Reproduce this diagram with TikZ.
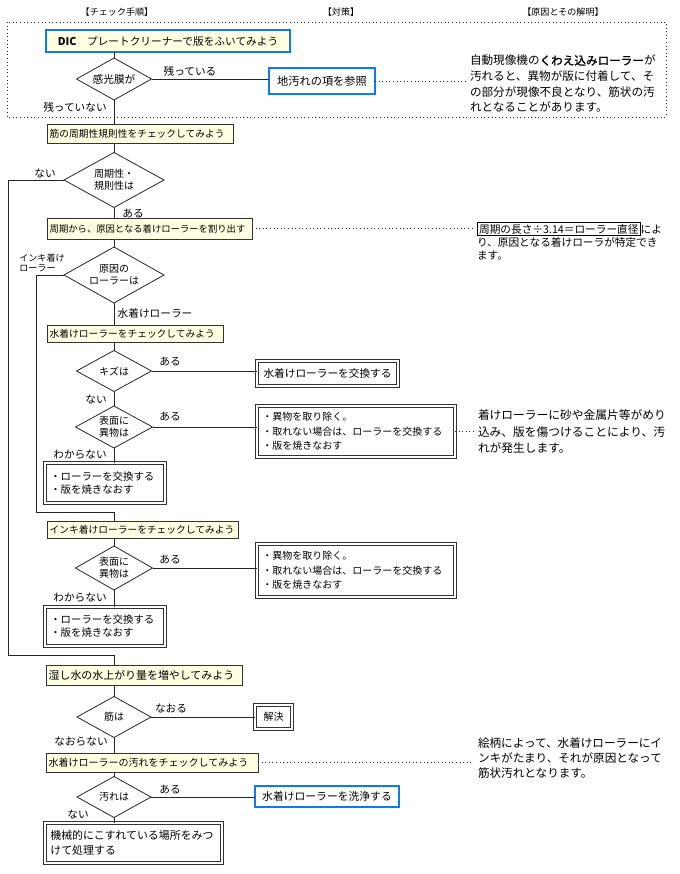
\documentclass[tikz,border=0pt]{standalone}
\usepackage{fontspec}
\setmainfont{Noto Sans CJK JP}
\usepackage{tikz}
\usetikzlibrary{shapes.geometric,calc,positioning}
\definecolor{chkfill}{RGB}{255,255,226}
\definecolor{dicblue}{RGB}{16,122,232}
\setlength{\fboxsep}{1pt}
\setlength{\fboxrule}{0.6pt}

\begin{document}
\begin{tikzpicture}[x=0.75pt,y=-0.75pt,
		every node/.style={outer sep=0pt,font=\fontsize{7.5}{9}\selectfont},
		ln/.style={draw=black!85,line width=0.6pt},
		dots/.style={draw=black!85,dotted,line width=0.7pt,shorten >=3pt},
		chk/.style={draw=black!80,line width=0.6pt,fill=chkfill,anchor=north west,inner xsep=2pt,inner ysep=0pt,align=left,font=\fontsize{7.3}{9}\selectfont},
		act/.style={draw=black!80,double,double distance=1.3pt,line width=0.5pt,anchor=north west,inner xsep=4pt,inner ysep=0pt,align=left},
		blu/.style={draw=dicblue,line width=2.2pt,anchor=north west,inner sep=0pt,align=center,font=\fontsize{8}{9}\selectfont},
		dec/.style={diamond,draw=black!85,line width=0.6pt,shape aspect=1.8,inner sep=0pt,align=center},
		lbl/.style={font=\fontsize{8}{9.5}\selectfont},
		note/.style={anchor=north west,inner sep=0pt,align=left,font=\fontsize{8.7}{11.7}\selectfont},
		hdr/.style={font=\fontsize{6.8}{8}\selectfont},
		]
		\useasboundingbox (0,0) rectangle (680,874);

		% column heads
		\node[hdr] (h1) at (117,12) {【チェック手順】};
		\node[hdr] (h2) at (341,12) {【対策】};
		\node[hdr] (h3) at (563,12) {【原因とその解明】};

		\draw[dotted,line width=0.7pt,black!85] (7,22) rectangle (666,117);

		% steps
		\node[blu,fill=chkfill,text width=183pt,minimum height=16.5pt] (dic) at (46,30) {\textbf{DIC}\quad プレートクリーナーで版をふいてみよう};
		\node[dec,font=\fontsize{8}{9}\selectfont,minimum width=56.25pt,minimum height=31.5pt] (d1) at (114,79) {感光膜が};
		\node[blu,text width=79.5pt,minimum height=19.5pt,font=\fontsize{8.4}{9}\selectfont] (ref) at (269,68) {地汚れの項を参照};
		\node[chk,text width=135.5pt,minimum height=14.25pt] (c1) at (47,124) {筋の周期性規則性をチェックしてみよう};
		\node[dec,minimum width=75pt,minimum height=41.25pt] (d2) at (114,180) {周期性・\\規則性は};
		\node[chk,text width=149.75pt,minimum height=15.75pt,font=\fontsize{7}{9}\selectfont] (c2) at (47,218) {周期から、原因となる着けローラーを割り出す};
		\node[dec,minimum width=75pt,minimum height=42pt] (d3) at (114,275) {原因の\\ローラーは};

		\node[chk,text width=128pt,minimum height=12.75pt] (c3) at (47,325) {水着けローラーをチェックしてみよう};
		\node[dec,minimum width=56.25pt,minimum height=30.75pt] (d4) at (114,371) {キズは};
		\node[act,text width=97.75pt,minimum height=18.75pt,align=center,font=\fontsize{8}{9}\selectfont] (a1) at (257,361) {水着けローラーを交換する};
		\node[dec,minimum width=57.75pt,minimum height=31.5pt] (d5) at (114,427) {表面に\\異物は};
		\node[act,text width=140.5pt,minimum height=38.25pt,font=\fontsize{7.5}{10.9}\selectfont] (a2) at (257,406) {・異物を取り除く。\\・取れない場合は、ローラーを交換する\\・版を焼きなおす};
		\node[act,text width=82pt,minimum height=30pt,font=\fontsize{7.8}{9.8}\selectfont] (a3) at (45,463) {・ローラーを交換する\\・版を焼きなおす};

		\node[chk,text width=139.25pt,minimum height=12.75pt] (c4) at (47,521) {インキ着けローラーをチェックしてみよう};
		\node[dec,minimum width=57.75pt,minimum height=33pt] (d6) at (114,568) {表面に\\異物は};
		\node[act,text width=140.5pt,minimum height=39.75pt,font=\fontsize{7.5}{10.9}\selectfont] (a4) at (257,544) {・異物を取り除く。\\・取れない場合は、ローラーを交換する\\・版を焼きなおす};
		\node[act,text width=82pt,minimum height=29.25pt,font=\fontsize{7.8}{9.8}\selectfont] (a5) at (45,607) {・ローラーを交換する\\・版を焼きなおす};

		\node[chk,text width=143pt,minimum height=15pt,font=\fontsize{8.2}{9}\selectfont] (c5) at (46,665) {湿し水の水上がり量を増やしてみよう};
		\node[dec,minimum width=55.5pt,minimum height=30.75pt] (d7) at (114,717) {筋は};
		\node[act,text width=19.75pt,minimum height=18pt,align=center] (a6) at (255,705) {解決};
		\node[chk,text width=155pt,minimum height=14.25pt,font=\fontsize{7.5}{9}\selectfont] (c6) at (46,753) {水着けローラーの汚れをチェックしてみよう};
		\node[dec,minimum width=55.5pt,minimum height=30.75pt] (d8) at (114,797) {汚れは};
		\node[blu,text width=108pt,minimum height=15.75pt,font=\fontsize{8.1}{9}\selectfont] (b2) at (255,786) {水着けローラーを洗浄する};
		\node[act,text width=124.75pt,minimum height=30pt,font=\fontsize{8.2}{11.25}\selectfont] (a7) at (45,823) {機械的にこすれている場所をみつ\\けて処理する};

		% causes
		\node[note] (t1) at (470,55) {自動現像機の{\addfontfeature{FakeBold=1.5}くわえ込みローラー}が\\汚れると、異物が版に付着して、そ\\の部分が現像不良となり、筋状の汚\\れとなることがあります。};
		\node[note,font=\fontsize{8}{10}\selectfont] (t2) at (477,222) {\fbox{周期の長さ÷3.14＝ローラー直径}によ\\り、原因となる着けローラが特定でき\\ます。};
		\node[note,font=\fontsize{8.8}{12.4}\selectfont] (t3) at (478,410) {着けローラーに砂や金属片等がめり\\込み、版を傷つけることにより、汚\\れが発生します。};
		\node[note,font=\fontsize{8.7}{11.25}\selectfont] (t4) at (478,738) {絵柄によって、水着けローラーにイ\\ンキがたまり、それが原因となって\\筋状汚れとなります。};

		% branch labels
		\node[lbl] (l1) at (190,71) {残っている};
		\node[lbl] (l2) at (75,107) {残っていない};
		\node[lbl] (l3) at (45,173) {ない};
		\node[lbl] (l4) at (133,214) {ある};
		\node[lbl,align=left,font=\fontsize{6.8}{7.6}\selectfont] (l5) at (42,263) {インキ着け\\ローラー};
		\node[lbl] (l6) at (155,313) {水着けローラー};
		\node[lbl] (l7) at (170,362) {ある};
		\node[lbl] (l8) at (96,399) {ない};
		\node[lbl] (l9) at (170,417) {ある};
		\node[lbl] (l10) at (80,455) {わからない};
		\node[lbl] (l11) at (170,560) {ある};
		\node[lbl] (l12) at (80,598) {わからない};
		\node[lbl] (l13) at (171,708) {なおる};
		\node[lbl] (l14) at (81,742) {なおらない};
		\node[lbl] (l15) at (170,790) {ある};
		\node[lbl] (l16) at (78,814) {ない};

		\coordinate (lpa) at (8,655);
		\coordinate (lpb) at (36,512);

		% connectors
		\draw[ln] (d1.north |- dic.south) -- (d1.north);
		\draw[ln] (d1.east) -- (d1.east -| ref.west);
		\draw[dots] (ref.east) -- (ref.east -| t1.west);
		\draw[ln] (d1.south) -- (d1.south |- c1.north);
		\draw[ln] (d2.north |- c1.south) -- (d2.north);
		\draw[ln] (d2.west) -| (lpa) -| (d7.north |- c5.north);
		\draw[ln] (d2.south) -- (d2.south |- c2.north);
		\draw[dots] (c2.east) -- (c2.east -| t2.west);
		\draw[ln] (d3.north |- c2.south) -- (d3.north);
		\draw[ln] (d3.west) -| (lpb) -| (d6.north |- c4.north);
		\draw[ln] (d3.south) -- (d3.south |- c3.north);
		\draw[ln] (d4.north |- c3.south) -- (d4.north);
		\draw[ln] (d4.east) -- (d4.east -| a1.west);
		\draw[ln] (d4.south) -- (d5.north);
		\draw[ln] (d5.east) -- (d5.east -| a2.west);
		\draw[dots] (a2.east) -- (a2.east -| t3.west);
		\draw[ln] (d5.south) -- (d5.south |- a3.north);
		\draw[ln] (d6.north |- c4.south) -- (d6.north);
		\draw[ln] (d6.east) -- (d6.east -| a4.west);
		\draw[ln] (d6.south) -- (d6.south |- a5.north);
		\draw[ln] (d7.north |- c5.south) -- (d7.north);
		\draw[ln] (d7.east) -- (d7.east -| a6.west);
		\draw[ln] (d7.south) -- (d7.south |- c6.north);
		\draw[dots] (c6.east) -- (c6.east -| t4.west);
		\draw[ln] (d8.north |- c6.south) -- (d8.north);
		\draw[ln] (d8.east) -- (d8.east -| b2.west);
		\draw[ln] (d8.south) -- (d8.south |- a7.north);

	\end{tikzpicture}
\end{document}
